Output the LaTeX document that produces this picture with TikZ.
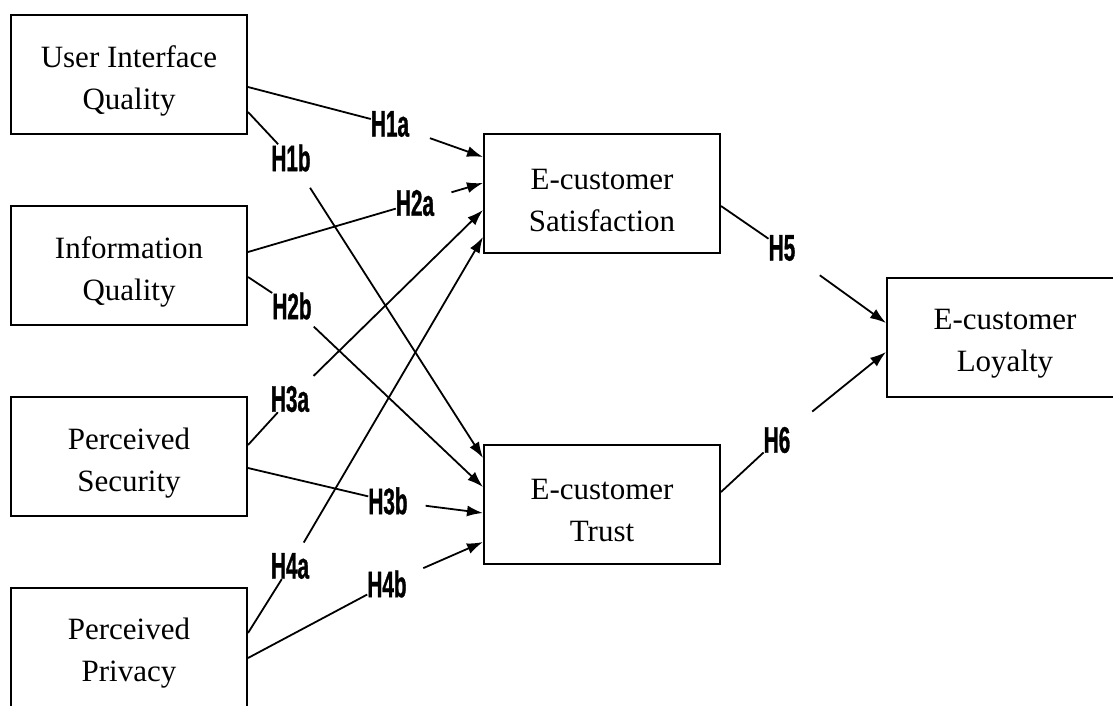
\documentclass[tikz,border=0pt]{standalone}
\usepackage{fontspec}
\setmainfont{Liberation Serif}
\newfontfamily\labfont{Liberation Sans}[FakeStretch=0.56,FakeBold=0.8]
\usepackage{tikz}
\usetikzlibrary{arrows.meta}

\newcommand{\tallstrut}{\rule{0pt}{34pt}}

\tikzset{
	construct/.style={draw, line width=2pt, minimum width=236pt, minimum height=119pt,
		align=center, font=\fontsize{31}{42}\selectfont},
	hyplabel/.style={inner sep=0pt, font=\labfont\bfseries\fontsize{37}{37}\selectfont},
	link/.style={line width=1.8pt}
}

\begin{document}
\begin{tikzpicture}[x=1pt,y=-1pt,>={Latex[length=16pt,width=11pt]}]
		\useasboundingbox (0,0) rectangle (1113,705);
		\clip (0,0) rectangle (1113,705);
		\node[construct] (uiq) at (129,74.5) {\tallstrut User Interface\\Quality};
		\node[construct] (iq) at (129,265.5) {\tallstrut Information\\Quality};
		\node[construct] (ps) at (129,456.5) {\tallstrut Perceived\\Security};
		\node[construct] (pp) at (129,647) {\tallstrut Perceived\\Privacy};
		\node[construct] (es) at (602,193.5) {\tallstrut E-customer\\Satisfaction};
		\node[construct] (et) at (602,504) {\tallstrut E-customer\\Trust};
		\node[construct] (el) at (1005,337) {\tallstrut E-customer\\Loyalty};
		\node[hyplabel] (h1a) at (390,124) {H1a};
		\node[hyplabel] (h1b) at (291,158) {H1b};
		\node[hyplabel] (h2a) at (415,203) {H2a};
		\node[hyplabel] (h2b) at (292,306) {H2b};
		\node[hyplabel] (h3a) at (290,399) {H3a};
		\node[hyplabel] (h3b) at (388,501) {H3b};
		\node[hyplabel] (h4a) at (290,566) {H4a};
		\node[hyplabel] (h4b) at (387,584) {H4b};
		\node[hyplabel] (h5) at (782,248) {H5};
		\node[hyplabel] (h6) at (777,440) {H6};
		\draw[link] ([yshift=-12.5pt]uiq.east) -- (h1a);
		\draw[link,->,shorten <=22pt] (h1a) -- ([yshift=36.5pt]es.west);
		\draw[link] ([yshift=-37.5pt]uiq.east) -- (h1b);
		\draw[link,->,shorten <=19pt] (h1b) -- ([yshift=46pt]et.west);
		\draw[link] ([yshift=13.5pt]iq.east) -- (h2a);
		\draw[link,->,shorten <=18pt] (h2a) -- ([yshift=10.5pt]es.west);
		\draw[link] ([yshift=-11.5pt]iq.east) -- (h2b);
		\draw[link,->,shorten <=10pt] (h2b) -- ([yshift=17pt]et.west);
		\draw[link] ([yshift=11.5pt]ps.east) -- (h3a);
		\draw[link,->,shorten <=14pt] (h3a) -- ([yshift=-16.5pt]es.west);
		\draw[link] ([yshift=-11.5pt]ps.east) -- (h3b);
		\draw[link,->,shorten <=18pt] (h3b) -- ([yshift=-9pt]et.west);
		\draw[link] ([yshift=14pt]pp.east) -- (h4a);
		\draw[link,->,shorten <=12pt] (h4a) -- ([yshift=-43.5pt]es.west);
		\draw[link] ([yshift=-11pt]pp.east) -- (h4b);
		\draw[link,->,shorten <=18pt] (h4b) -- ([yshift=-38pt]et.west);
		\draw[link] ([yshift=-12.5pt]es.east) -- (h5);
		\draw[link,->,shorten <=30pt] (h5) -- ([yshift=14pt]el.west);
		\draw[link] ([yshift=12pt]et.east) -- (h6);
		\draw[link,->,shorten <=28pt] (h6) -- ([yshift=-15pt]el.west);
	\end{tikzpicture}
\end{document}
